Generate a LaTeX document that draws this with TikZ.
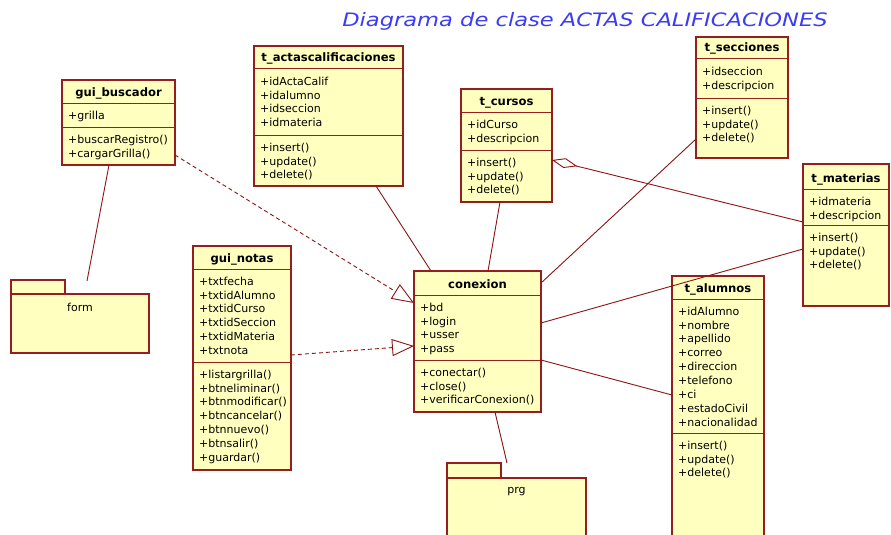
\documentclass[tikz,border=0pt]{standalone}
\usepackage{fontspec}
\setmainfont{DejaVu Sans}
\usetikzlibrary{arrows.meta}
\definecolor{clsfill}{RGB}{255,255,192}
\definecolor{clsborder}{RGB}{150,30,30}
\definecolor{conn}{RGB}{140,20,20}
\definecolor{titleblue}{RGB}{60,60,245}
\tikzset{
  clsbox/.style={draw=clsborder, fill=clsfill, line width=1.2pt, inner sep=0pt, outer sep=0pt},
  clsline/.style={draw=clsborder, line width=1pt},
  clstitle/.style={font=\fontsize{11.6}{14}\selectfont\bfseries, inner sep=0pt, anchor=base},
  clstext/.style={font=\fontsize{11}{13.9}\selectfont, inner sep=0pt, anchor=north west, align=left},
  pkglabel/.style={font=\fontsize{11}{13.9}\selectfont, inner sep=0pt},
  assoc/.style={draw=conn, line width=0.9pt},
  depend/.style={assoc, dash pattern=on 4pt off 3pt, -{Triangle[open,length=22pt,width=17pt]}},
  aggr/.style={assoc, {Diamond[open,length=26pt,width=10pt]}-}
}
% #1 name, #2 x1, #3 y1, #4 x2, #5 y2, #6 sep1, #7 sep2, #8 title
\newcommand\umlcls[8]{%
  \node[clsbox, minimum width={#4pt-#2pt}, minimum height={#5pt-#3pt}] (#1) at ({(#2+#4)/2},{(#3+#5)/2}) {};
  \draw[clsline] (#2,#6) -- (#4,#6);
  \draw[clsline] (#2,#7) -- (#4,#7);
  \node[clstitle] (#1-t) at ({(#2+#4)/2},{#6-7}) {#8};
}
\begin{document}
\begin{tikzpicture}[x=1pt,y=-1pt]
\clip (0,0) rectangle (891,535);
\fill[white] (0,0) rectangle (891,535);

\node[font=\fontsize{18.5}{20}\selectfont\itshape, text=titleblue, anchor=base, xscale=1.22, inner sep=0pt] (title) at (585,27) {Diagrama de clase ACTAS CALIFICACIONES};

% gui_buscador
\umlcls{busc}{62}{80}{175}{165}{103}{127}{gui\_buscador}
\node[clstext] (busc-a) at (68,110.6) {+grilla};
\node[clstext] (busc-m) at (68,134.6) {+buscarRegistro()\\+cargarGrilla()};

% t_actascalificaciones
\umlcls{actas}{254}{46}{403}{186}{69}{135}{t\_actascalificaciones}
\node[clstext] (actas-a) at (260,76.6) {+idActaCalif\\+idalumno\\+idseccion\\+idmateria};
\node[clstext] (actas-m) at (260,142.6) {+insert()\\+update()\\+delete()};

% t_cursos
\umlcls{cursos}{461}{89}{552}{202}{112}{150}{t\_cursos}
\node[clstext] (cursos-a) at (467,119.6) {+idCurso\\+descripcion};
\node[clstext] (cursos-m) at (467,157.6) {+insert()\\+update()\\+delete()};

% t_secciones
\umlcls{secc}{696}{37}{788}{158}{59}{98}{t\_secciones}
\node[clstext] (secc-a) at (702,66.6) {+idseccion\\+descripcion};
\node[clstext] (secc-m) at (702,105.6) {+insert()\\+update()\\+delete()};

% t_materias
\umlcls{mat}{803}{164}{889}{306}{189}{225}{t\_materias}
\node[clstext] (mat-a) at (809,196.6) {+idmateria\\+descripcion};
\node[clstext] (mat-m) at (809,232.6) {+insert()\\+update()\\+delete()};

% gui_notas
\umlcls{notas}{193}{246}{291}{470}{269}{362}{gui\_notas}
\node[clstext] (notas-a) at (199,276.6) {+txtfecha\\+txtidAlumno\\+txtidCurso\\+txtidSeccion\\+txtidMateria\\+txtnota};
\node[clstext] (notas-m) at (199,369.6) {+listargrilla()\\+btneliminar()\\+btnmodificar()\\+btncancelar()\\+btnnuevo()\\+btnsalir()\\+guardar()};

% conexion
\umlcls{conex}{414}{271}{541}{412}{295}{360}{conexion}
\node[clstext] (conex-a) at (420,302.6) {+bd\\+login\\+usser\\+pass};
\node[clstext] (conex-m) at (420,367.6) {+conectar()\\+close()\\+verificarConexion()};

% t_alumnos
\umlcls{alum}{672}{276}{764}{545}{299}{433}{t\_alumnos}
\node[clstext] (alum-a) at (678,306.6) {+idAlumno\\+nombre\\+apellido\\+correo\\+direccion\\+telefono\\+ci\\+estadoCivil\\+nacionalidad};
\node[clstext] (alum-m) at (678,440.6) {+insert()\\+update()\\+delete()};

% packages
\node[clsbox, minimum width=54pt, minimum height=14pt] (formtab) at (38,287) {};
\node[clsbox, minimum width=138pt, minimum height=59pt] (form) at (80,323.5) {};
\node[pkglabel] (form-l) at (80,307) {form};
\node[clsbox, minimum width=54pt, minimum height=15pt] (prgtab) at (474,470.5) {};
\node[clsbox, minimum width=139pt, minimum height=70pt] (prg) at (516.5,513) {};
\node[pkglabel] (prg-l) at (516.5,492) {prg};

\coordinate (formend) at (87,281);
\coordinate (prgend) at (507,463);

% connectors
\draw[assoc] ([xshift=47pt]busc.south west) -- (formend);
\draw[depend] ([yshift=10pt]busc.south east) -- ([yshift=-32pt]conex.north west);
\draw[depend] ([yshift=-109pt]notas.north east) -- ([yshift=-75pt]conex.north west);
\draw[assoc] ([xshift=-27pt]actas.south east) -- ([xshift=17pt]conex.north west);
\draw[assoc] ([xshift=39pt]cursos.south west) -- ([xshift=74pt]conex.north west);
\draw[assoc] ([yshift=-12pt]conex.north east) -- ([yshift=-102pt]secc.north west);
\draw[aggr] ([yshift=-71pt]cursos.north east) -- ([yshift=-58pt]mat.north west);
\draw[assoc] ([yshift=-52pt]conex.north east) -- ([yshift=-85pt]mat.north west);
\draw[assoc] ([yshift=-89pt]conex.north east) -- ([yshift=-119pt]alum.north west);
\draw[assoc] ([xshift=-46pt]conex.south east) -- (prgend);
\end{tikzpicture}
\end{document}
